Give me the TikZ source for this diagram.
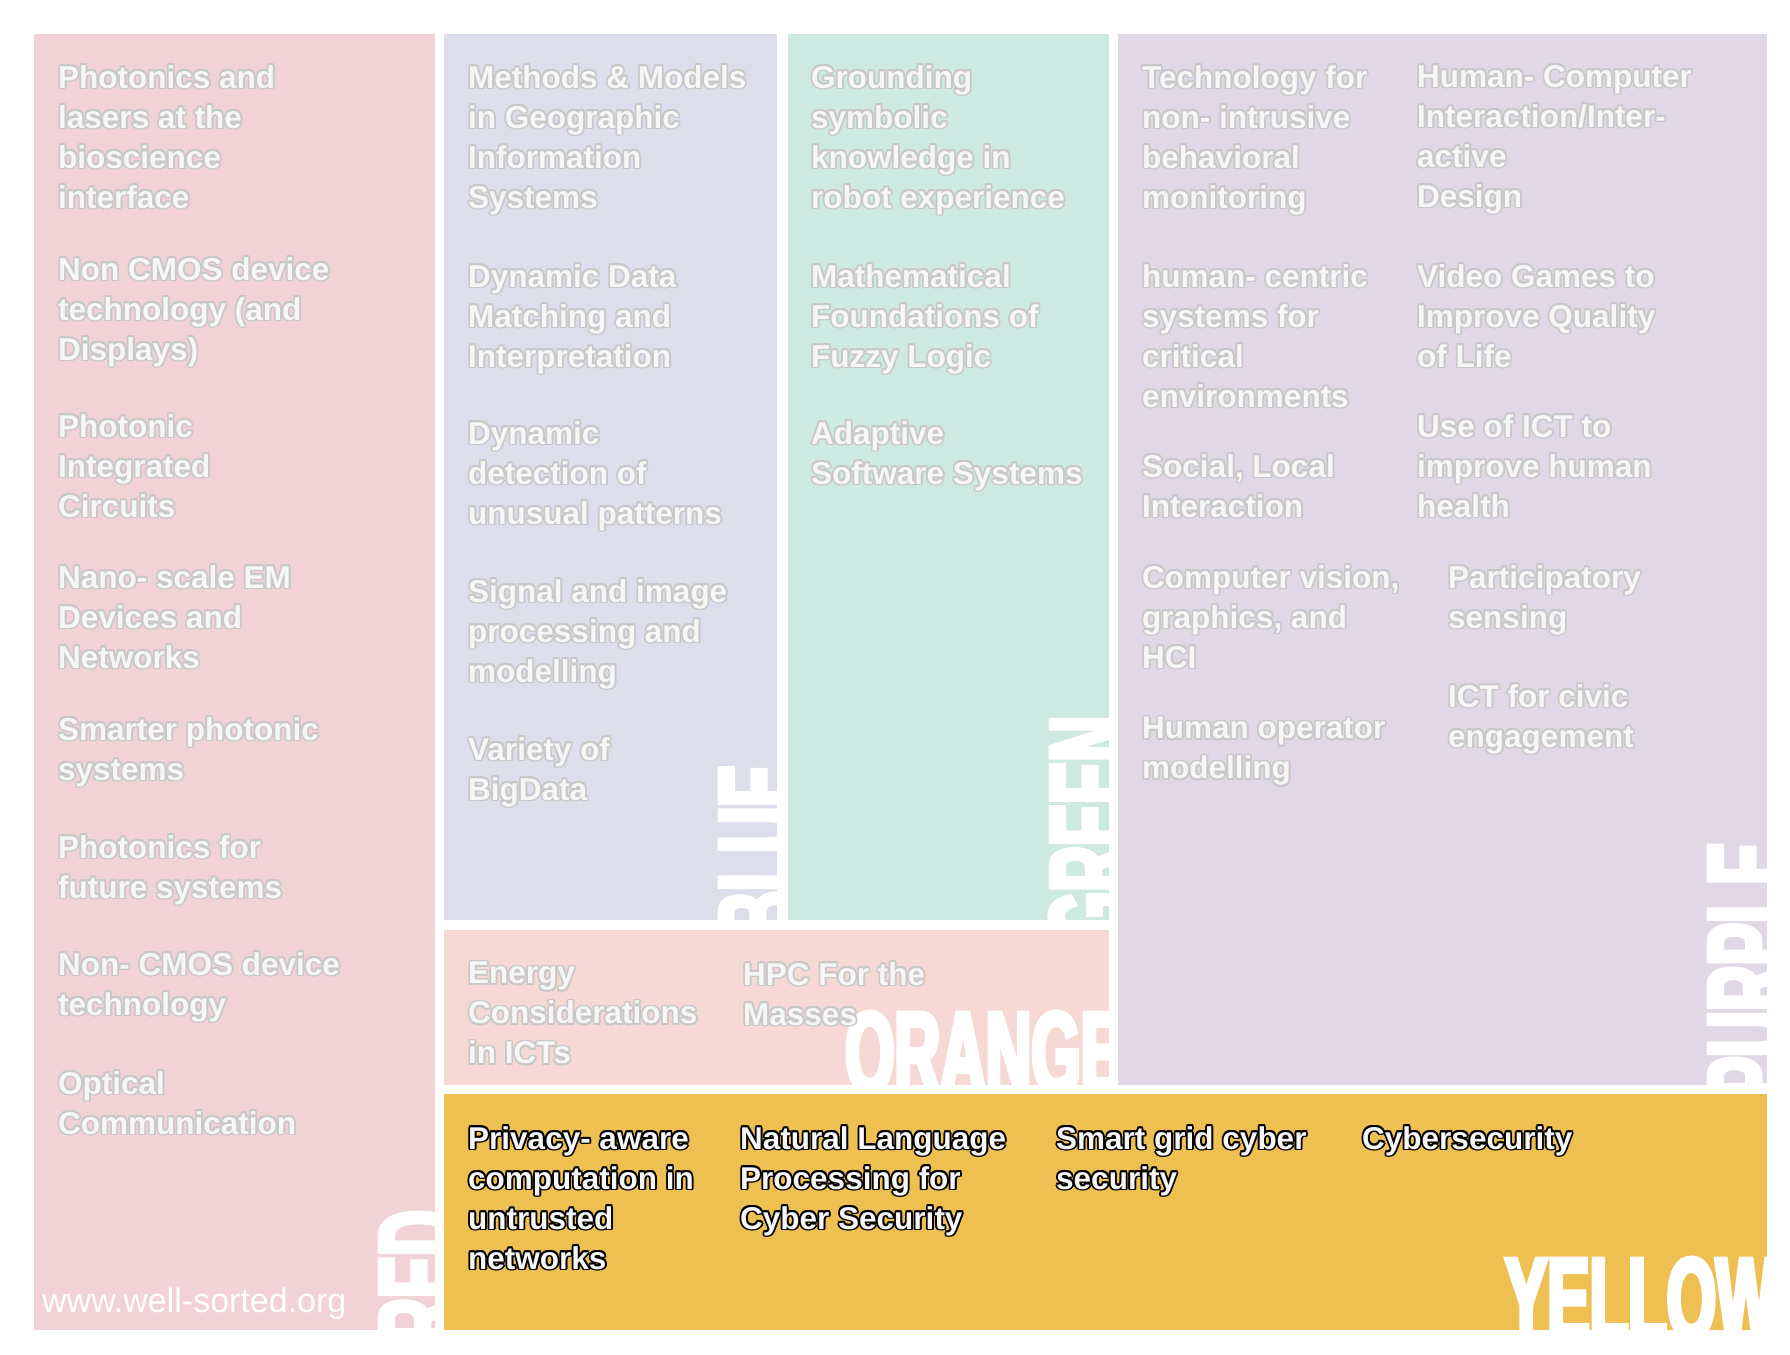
\documentclass[tikz,border=0pt]{standalone}
\usepackage{fontspec}
\setmainfont{Liberation Sans}
\newfontfamily\bigfamily{Liberation Sans}[FakeStretch=0.55, FakeBold=4]
\newcommand\itemfont{\bfseries\fontsize{31.5}{40}\selectfont}
\newcommand\bigfont{\bigfamily\bfseries\fontsize{115}{115}\selectfont}
\definecolor{redbg}{RGB}{241,210,215}
\definecolor{bluebg}{RGB}{221,222,236}
\definecolor{greenbg}{RGB}{206,232,226}
\definecolor{purplebg}{RGB}{225,216,229}
\definecolor{orangebg}{RGB}{246,216,212}
\definecolor{yellowbg}{RGB}{238,191,81}
\definecolor{paletxt}{RGB}{246,246,246}
\definecolor{paleedge}{RGB}{200,200,200}
\tikzset{
  item/.style={anchor=north west, inner sep=0pt, align=left, font=\itemfont, text=paletxt},
  big/.style={inner sep=0pt, font=\bigfont, text=white}}
% text with an outline: name, position, outline colour, text
\newcommand\haloitem[4]{%
  \foreach \ang in {0,45,...,315}
    \node[item, text=#3, shift={(\ang:1.8pt)}] at (#2) {#4};
  \node[item] (#1) at (#2) {#4};}

\begin{document}
\begin{tikzpicture}[x=1pt, y=-1pt]
  \useasboundingbox (0,0) rectangle (1790,1354);
  \fill[redbg] (34,34) rectangle (435,1330);
  \fill[bluebg] (444,34) rectangle (777,920);
  \fill[greenbg] (788,34) rectangle (1109,920);
  \fill[purplebg] (1118,34) rectangle (1767,1085);
  \fill[orangebg] (444,930) rectangle (1109,1085);
  \fill[yellowbg] (444,1094) rectangle (1767,1330);
  % colour names, cut at the box edges
  \begin{scope}
    \clip (34,34) rectangle (435,1330);
    \node[big, rotate=90, anchor=base west] (redname) at (459,1344) {RED};
  \end{scope}
  \begin{scope}
    \clip (444,34) rectangle (777,920);
    \node[big, rotate=90, anchor=base west] (bluename) at (799,937) {BLUE};
  \end{scope}
  \begin{scope}
    \clip (788,34) rectangle (1109,920);
    \node[big, rotate=90, anchor=base west] (greenname) at (1130,941) {GREEN};
  \end{scope}
  \begin{scope}
    \clip (1118,34) rectangle (1767,1085);
    \node[big, rotate=90, anchor=base west] (purplename) at (1788,1099) {PURPLE};
  \end{scope}
  \begin{scope}
    \clip (444,930) rectangle (1109,1085);
    \node[big, anchor=base west] (orangename) at (845,1092) {ORANGE};
  \end{scope}
  \begin{scope}
    \clip (444,1094) rectangle (1767,1330);
    \node[big, anchor=base west] (yellowname) at (1505,1338) {YELLOW};
  \end{scope}
  % red
  \haloitem{r1}{58,65}{paleedge}{Photonics and\\lasers at the\\bioscience\\interface}
  \haloitem{r2}{58,257}{paleedge}{Non CMOS device\\technology (and\\Displays)}
  \haloitem{r3}{58,414}{paleedge}{Photonic\\Integrated\\Circuits}
  \haloitem{r4}{58,565}{paleedge}{Nano- scale EM\\Devices and\\Networks}
  \haloitem{r5}{58,717}{paleedge}{Smarter photonic\\systems}
  \haloitem{r6}{58,835}{paleedge}{Photonics for\\future systems}
  \haloitem{r7}{58,952}{paleedge}{Non- CMOS device\\technology}
  \haloitem{r8}{58,1071}{paleedge}{Optical\\Communication}
  \node[anchor=base west, inner sep=0pt, font=\fontsize{34}{34}\selectfont, text=white]
    (site) at (42,1312) {www.well-sorted.org};
  % blue
  \haloitem{b1}{468,65}{paleedge}{Methods \& Models\\in Geographic\\Information\\Systems}
  \haloitem{b2}{468,264}{paleedge}{Dynamic Data\\Matching and\\Interpretation}
  \haloitem{b3}{468,421}{paleedge}{Dynamic\\detection of\\unusual patterns}
  \haloitem{b4}{468,579}{paleedge}{Signal and image\\processing and\\modelling}
  \haloitem{b5}{468,737}{paleedge}{Variety of\\BigData}
  % green
  \haloitem{g1}{811,65}{paleedge}{Grounding\\symbolic\\knowledge in\\robot experience}
  \haloitem{g2}{811,264}{paleedge}{Mathematical\\Foundations of\\Fuzzy Logic}
  \haloitem{g3}{811,421}{paleedge}{Adaptive\\Software Systems}
  % purple
  \haloitem{p1}{1142,65}{paleedge}{Technology for\\non- intrusive\\behavioral\\monitoring}
  \haloitem{p2}{1142,264}{paleedge}{human- centric\\systems for\\critical\\environments}
  \haloitem{p3}{1142,454}{paleedge}{Social, Local\\Interaction}
  \haloitem{p4}{1142,565}{paleedge}{Computer vision,\\graphics, and\\HCI}
  \haloitem{p5}{1142,717}{paleedge}{Human operator\\modelling}
  \haloitem{p6}{1417,65}{paleedge}{Human- Computer\\Interaction/Inter-\\active\\Design}
  \haloitem{p7}{1417,264}{paleedge}{Video Games to\\Improve Quality\\of Life}
  \haloitem{p8}{1417,414}{paleedge}{Use of ICT to\\improve human\\health}
  \haloitem{p9}{1448,565}{paleedge}{Participatory\\sensing}
  \haloitem{p10}{1448,684}{paleedge}{ICT for civic\\engagement}
  % orange
  \haloitem{o1}{468,962}{paleedge}{Energy\\Considerations\\in ICTs}
  \haloitem{o2}{743,962}{paleedge}{HPC For the\\Masses}
  % yellow
  \haloitem{y1}{468,1126}{black}{Privacy- aware\\computation in\\untrusted\\networks}
  \haloitem{y2}{740,1126}{black}{Natural Language\\Processing for\\Cyber Security}
  \haloitem{y3}{1056,1126}{black}{Smart grid cyber\\security}
  \haloitem{y4}{1362,1126}{black}{Cybersecurity}
\end{tikzpicture}
\end{document}
